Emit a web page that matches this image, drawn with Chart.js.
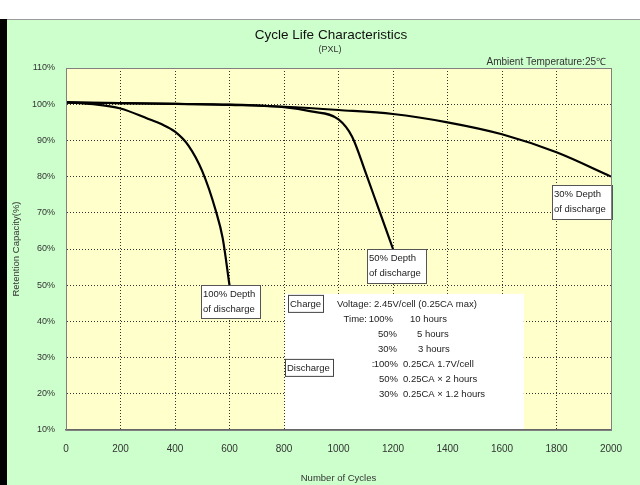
<!DOCTYPE html>
<html>
<head>
<meta charset="utf-8">
<script src="https://cdn.jsdelivr.net/npm/chart.js@4"></script>
<style>
  body { margin: 0; background: #fff; width: 640px; height: 485px; overflow: hidden; position: relative; }
  #leftBar { position: absolute; left: 0; top: 19px; width: 7px; height: 466px; background: #000; }
  #panel { position: absolute; left: 7px; top: 19px; width: 633px; height: 466px; background: #ccffcc; }
  #panel canvas { position: absolute; left: 0; top: 0; }
  #topLine { position: absolute; left: 7px; top: 19px; width: 633px; height: 1px; background: #9a9a9a; }
</style>
</head>
<body>
<div id="leftBar"></div>
<div id="panel"><canvas id="chart" width="633" height="466"></canvas></div>
<div id="topLine"></div>
<script>
// cycle counts and retention (%)
const cycles100 = [0, 100, 200, 300, 350, 400, 450, 500, 550, 575, 600];
const retention100 = [100.5, 100, 98.8, 96, 94.5, 92.4, 88.5, 81.5, 70.5, 63, 50];

const cycles50 = [0, 200, 400, 600, 800, 900, 1000, 1050, 1100, 1150, 1200];
const retention50 = [100.5, 100.3, 100.1, 99.8, 99.2, 98, 95.8, 91, 81, 70.5, 60];

const cycles30 = [0, 200, 400, 600, 800, 1000, 1200, 1400, 1600, 1800, 2000];
const retention30 = [100.5, 100.3, 100.1, 99.9, 99.3, 98.4, 97.3, 95, 91.7, 86.7, 80];

const xTicks = [0, 200, 400, 600, 800, 1000, 1200, 1400, 1600, 1800, 2000];
const yTicks = [10, 20, 30, 40, 50, 60, 70, 80, 90, 100, 110];

const curveLabels = [
    { x: 495, y: 50, w: 59, h: 33, lines: ['100% Depth', 'of discharge'] },
    { x: 1105, y: 60, w: 59, h: 34, lines: ['50% Depth', 'of discharge'] },
    { x: 1783, y: 77.7, w: 60, h: 34, lines: ['30% Depth', 'of discharge'] }
];

const FONT = '"Liberation Sans", Arial, sans-serif';

function points(xs, ys) {
    return xs.map((x, i) => ({ x: x, y: ys[i] }));
}

function lineSet(label, xs, ys) {
    return {
        label: label,
        data: points(xs, ys),
        borderColor: '#000',
        borderWidth: 2.2,
        pointRadius: 0,
        fill: false,
        cubicInterpolationMode: 'monotone'
    };
}

const decorations = {
    id: 'decorations',
    beforeDraw(chart) {
        const { ctx, chartArea: a } = chart;
        ctx.save();
        ctx.fillStyle = '#ffffcc';
        ctx.fillRect(a.left, a.top, a.right - a.left, a.bottom - a.top);
        ctx.restore();
    },
    beforeDatasetsDraw(chart) {
        const { ctx, scales: { x, y } } = chart;
        ctx.save();
        // conditions box
        const bx = x.getPixelForValue(800) + 1, by = y.getPixelForValue(47.6);
        const br = x.getPixelForValue(1680), bb = y.getPixelForValue(10) - 1;
        ctx.fillStyle = '#fff';
        ctx.fillRect(bx, by, br - bx, bb - by);

        ctx.font = '9.5px ' + FONT;
        ctx.textBaseline = 'middle';
        ctx.strokeStyle = '#444';
        ctx.lineWidth = 1;
        const tag = (text, dx, dy, w, h) => {
            ctx.fillStyle = '#fff';
            ctx.fillRect(bx + dx, by + dy, w, h);
            ctx.strokeRect(bx + dx + 0.5, by + dy + 0.5, w, h);
            ctx.fillStyle = '#222';
            ctx.textAlign = 'left';
            ctx.fillText(text, bx + dx + 2, by + dy + h / 2 + 1);
        };
        tag('Charge', 3, 1, 35, 17);
        tag('Discharge', 0, 65, 48, 17);

        const rows = [
            [['Voltage: 2.45V/cell (0.25CA max)', 52, 'left']],
            [['Time:', 82, 'right'], ['100%', 108, 'right'], ['10 hours', 125, 'left']],
            [['50%', 112, 'right'], ['5 hours', 132, 'left']],
            [['30%', 112, 'right'], ['3 hours', 133, 'left']],
            [[':', 88, 'center'], ['100%', 113, 'right'], ['0.25CA 1.7V/cell', 118, 'left']],
            [['50%', 113, 'right'], ['0.25CA \u00d7 2 hours', 118, 'left']],
            [['30%', 113, 'right'], ['0.25CA \u00d7 1.2 hours', 118, 'left']]
        ];
        ctx.fillStyle = '#222';
        rows.forEach((row, i) => {
            row.forEach(([text, dx, align]) => {
                ctx.textAlign = align;
                ctx.fillText(text, bx + dx, by + 10.5 + i * 15);
            });
        });

        // depth-of-discharge labels
        curveLabels.forEach(l => {
            const px = Math.round(x.getPixelForValue(l.x)), py = Math.round(y.getPixelForValue(l.y));
            ctx.fillStyle = '#fff';
            ctx.fillRect(px, py, l.w, l.h);
            ctx.strokeStyle = '#555';
            ctx.strokeRect(px + 0.5, py + 0.5, l.w, l.h);
            ctx.fillStyle = '#222';
            ctx.textAlign = 'left';
            l.lines.forEach((t, i) => ctx.fillText(t, px + 2, py + 9 + i * 15));
        });
        ctx.restore();
    },
    afterDraw(chart) {
        const { ctx, chartArea: a } = chart;
        ctx.save();
        ctx.strokeStyle = '#808080';
        ctx.lineWidth = 1;
        ctx.strokeRect(a.left + 0.5, a.top + 0.5, a.right - a.left, a.bottom - a.top);

        ctx.fillStyle = '#111';
        ctx.textAlign = 'center';
        ctx.textBaseline = 'middle';
        ctx.font = '13.5px ' + FONT;
        ctx.fillText('Cycle Life Characteristics', 324, 16);
        ctx.font = '9px ' + FONT;
        ctx.fillStyle = '#333';
        ctx.fillText('(PXL)', 323, 31);
        ctx.textAlign = 'right';
        ctx.font = '10px ' + FONT;
        ctx.fillText('Ambient Temperature:25\u2103', 599, 43);
        ctx.restore();
    }
};

new Chart(document.getElementById('chart'), {
    type: 'line',
    data: {
        datasets: [
            lineSet('100% Depth of discharge', cycles100, retention100),
            lineSet('50% Depth of discharge', cycles50, retention50),
            lineSet('30% Depth of discharge', cycles30, retention30)
        ]
    },
    options: {
        responsive: false,
        animation: false,
        devicePixelRatio: 1,
        layout: { padding: { top: 49, right: 29, left: 0, bottom: 0 } },
        plugins: {
            legend: { display: false },
            tooltip: { enabled: false }
        },
        scales: {
            x: {
                type: 'linear',
                min: 0,
                max: 2000,
                afterBuildTicks: s => { s.ticks = xTicks.map(v => ({ value: v })); },
                afterFit: s => { s.height = 55; },
                grid: { color: '#333', drawTicks: false, lineWidth: 1 },
                border: { display: true, color: '#666', width: 1.5, dash: [1, 2] },
                ticks: { padding: 13, color: '#333', font: { family: FONT, size: 10 }, maxRotation: 0, callback: v => String(v) },
                title: { display: true, text: 'Number of Cycles', color: '#333', font: { family: FONT, size: 9.5 }, padding: { top: 0, bottom: 1 } }
            },
            y: {
                min: 10,
                max: 110,
                afterBuildTicks: s => { s.ticks = yTicks.map(v => ({ value: v })); },
                afterFit: s => { s.width = 59; },
                grid: { color: '#333', drawTicks: false, lineWidth: 1 },
                border: { display: true, color: '#808080', dash: [1, 2] },
                ticks: { padding: 11, color: '#333', font: { family: FONT, size: 9 }, callback: v => v + '%' },
                title: { display: true, text: 'Retention Capacity(%)', color: '#333', font: { family: FONT, size: 9.5 }, padding: { top: 4, bottom: 0 } }
            }
        }
    },
    plugins: [decorations]
});
</script>
</body>
</html>
